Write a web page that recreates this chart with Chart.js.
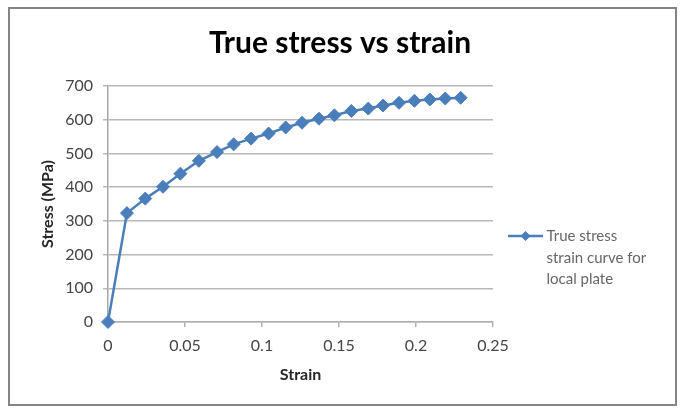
<!DOCTYPE html>
<html>
<head>
<meta charset="utf-8">
<script src="https://cdn.jsdelivr.net/npm/chart.js@4.4.1/dist/chart.umd.min.js"></script>
<style>
  html, body { margin: 0; padding: 0; background: #ffffff; }
  #wrap { position: relative; width: 681px; height: 408px; }
  #frame { position: absolute; left: 8px; top: 7px; width: 669px; height: 399px; box-sizing: border-box; border: 2px solid #858585; pointer-events: none; }
  canvas { position: absolute; left: 0; top: 0; }
</style>
</head>
<body>
<div id="wrap">
  <canvas id="c" width="681" height="408"></canvas>
  <div id="frame"></div>
</div>
<script>
const chartTitle = 'True stress vs strain';
const xTitle = 'Strain';
const yTitle = 'Stress (MPa)';
const seriesName = ['True stress', 'strain curve for', 'local plate'];
const strain = [0, 0.0123, 0.0242, 0.0357, 0.047, 0.059, 0.0708, 0.0816, 0.0929, 0.1043, 0.1154, 0.126, 0.137, 0.147, 0.158, 0.169, 0.1786, 0.189, 0.199, 0.209, 0.219, 0.229];
const stress = [0, 323, 366, 401, 440, 478, 504, 527, 544, 559, 577, 591, 603, 613, 626, 633, 642, 650, 656, 660, 663, 665];
const xTicks = [0, 0.05, 0.1, 0.15, 0.2, 0.25];
const yTicks = [0, 100, 200, 300, 400, 500, 600, 700];

const LINE = '#4a7ebb';
const FONT = 'Lato, "Open Sans", sans-serif';
const LEGEND_FS = 15;

const points = strain.map((s, i) => ({ x: s, y: stress[i] }));

const legendMarker = {
  id: 'legendMarker',
  afterDraw(chart) {
    const lg = chart.legend;
    if (!lg || !lg.legendHitBoxes || !lg.legendHitBoxes.length) return;
    const hb = lg.legendHitBoxes[0];
    const ctx = chart.ctx;
    const cy = hb.top + LEGEND_FS / 2;
    const x0 = hb.left, x1 = hb.left + 35;
    ctx.save();
    ctx.strokeStyle = LINE;
    ctx.lineWidth = 2.5;
    ctx.beginPath();
    ctx.moveTo(x0, cy);
    ctx.lineTo(x1, cy);
    ctx.stroke();
    const cx = (x0 + x1) / 2, r = 5;
    ctx.fillStyle = LINE;
    ctx.beginPath();
    ctx.moveTo(cx - r, cy);
    ctx.lineTo(cx, cy - r);
    ctx.lineTo(cx + r, cy);
    ctx.lineTo(cx, cy + r);
    ctx.closePath();
    ctx.fill();
    ctx.restore();
  }
};

const fmt = v => String(+Number(v).toFixed(3));

new Chart(document.getElementById('c'), {
  type: 'scatter',
  data: {
    datasets: [{
      label: seriesName.join(' '),
      data: points,
      showLine: true,
      clip: false,
      tension: 0,
      borderColor: LINE,
      borderWidth: 2.5,
      backgroundColor: LINE,
      pointStyle: 'rectRot',
      pointRadius: 6.5,
      pointBorderWidth: 1,
      pointBorderColor: LINE,
      pointBackgroundColor: LINE
    }]
  },
  options: {
    responsive: false,
    animation: false,
    events: [],
    layout: { padding: { left: 34, right: 35, top: 20, bottom: 23.4 } },
    plugins: {
      title: {
        display: true,
        text: chartTitle,
        color: '#000000',
        font: { family: FONT, size: 30, weight: 'bold' },
        padding: { top: 5, bottom: 25 }
      },
      legend: {
        display: true,
        position: 'right',
        align: 'start',
        fullSize: false,
        title: { display: true, text: '', font: { size: 12 }, padding: { top: 113.1, bottom: 0 } },
        labels: {
          boxWidth: 31,
          boxHeight: LEGEND_FS,
          padding: 15,
          color: '#262626',
          font: { family: FONT, size: LEGEND_FS, lineHeight: 1.45 },
          generateLabels() {
            return [{
              text: seriesName,
              fillStyle: 'rgba(0,0,0,0)',
              strokeStyle: 'rgba(0,0,0,0)',
              lineWidth: 0,
              hidden: false,
              datasetIndex: 0
            }];
          }
        }
      },
      tooltip: { enabled: false }
    },
    scales: {
      x: {
        type: 'linear',
        min: 0,
        max: 0.25,
        afterBuildTicks(scale) { scale.ticks = xTicks.map(v => ({ value: v })); },
        afterFit(scale) { scale.height = 62.6; },
        ticks: {
          color: '#454545',
          font: { family: FONT, size: 16 },
          padding: 9.5,
          maxRotation: 0,
          callback: fmt
        },
        grid: {
          drawOnChartArea: false,
          drawTicks: true,
          tickLength: 5,
          color: '#b0b0b0',
          lineWidth: 1.5
        },
        border: { display: true, color: '#b0b0b0', width: 1.5 },
        title: {
          display: true,
          text: xTitle,
          color: '#262626',
          font: { family: FONT, size: 16, weight: 'bold' },
          padding: { top: 0, bottom: 0 }
        }
      },
      y: {
        type: 'linear',
        min: 0,
        max: 700,
        afterBuildTicks(scale) { scale.ticks = yTicks.map(v => ({ value: v })); },
        afterFit(scale) { scale.width = 74; },
        ticks: {
          color: '#454545',
          font: { family: FONT, size: 16 },
          padding: 10,
          callback: fmt
        },
        grid: {
          drawOnChartArea: true,
          drawTicks: true,
          tickLength: 5,
          color: '#b8b8b8',
          lineWidth: 1.5
        },
        border: { display: true, color: '#a8a8a8', width: 1.5 },
        title: {
          display: true,
          text: yTitle,
          color: '#262626',
          font: { family: FONT, size: 16, weight: 'bold' },
          padding: { top: 4, bottom: 4 }
        }
      }
    }
  },
  plugins: [legendMarker]
});
</script>
</body>
</html>
